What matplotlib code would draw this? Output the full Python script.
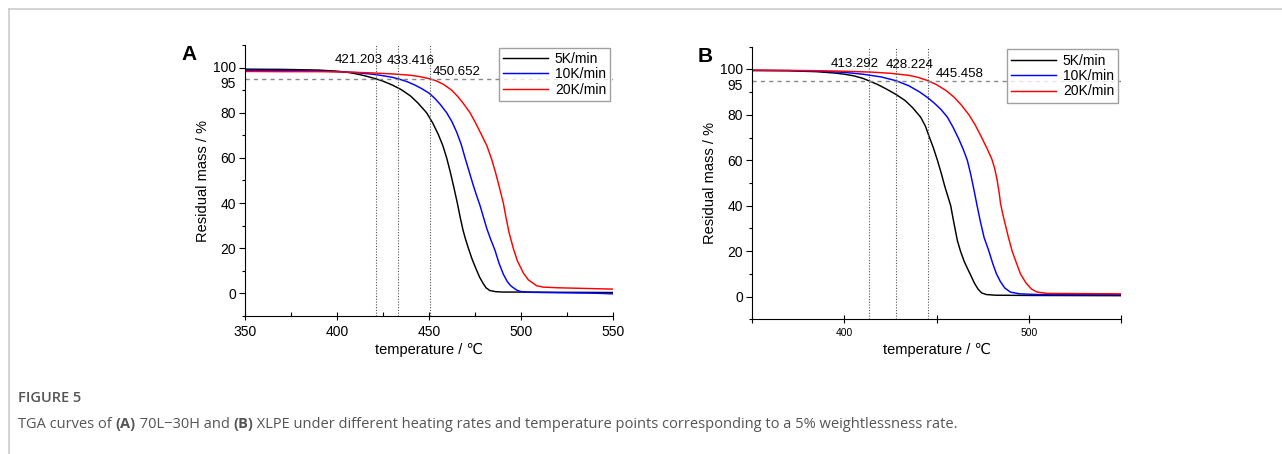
import matplotlib
matplotlib.use("Agg")
import matplotlib.pyplot as plt
import matplotlib.transforms as mtransforms
from matplotlib.ticker import FixedLocator, NullFormatter

plt.rcParams['font.family'] = ['Liberation Sans', 'DejaVu Sans']

# ---------------- data ----------------
# Panel A: 70L-30H
a_black_T = [350, 370, 390, 400, 405, 410, 415, 421.2, 425, 430, 435, 440, 444, 448.7, 452, 455, 457.5,
             459.6, 461.5, 463.5, 465.4, 467, 468.5, 469.6, 471.4, 473.5, 475.5, 477.5, 479.5, 481, 483,
             486, 490, 500, 520, 550]
a_black_m = [99.3, 99.2, 98.9, 98.4, 98.0, 97.3, 96.4, 95.0, 94.0, 92.3, 90.2, 87.4, 84.3, 80.0, 75.5, 70.5, 65.5,
             60.0, 54.0, 47.0, 40.0, 33.5, 28.0, 24.7, 20.0, 15.0, 11.0, 7.2, 4.3, 2.5, 1.3,
             0.8, 0.6, 0.6, 0.5, 0.4]
a_blue_T = [350, 370, 390, 400, 410, 420, 425, 430, 433.4, 438, 442, 446, 450, 453, 456, 459.6, 462.5, 465,
            467.5, 469.6, 472, 474, 475.8, 477.7, 479.5, 481.5, 483.5, 485.9, 488, 490.4, 492.5, 494.5,
            497.6, 500, 505, 520, 540, 550]
a_blue_m = [98.8, 98.7, 98.5, 98.2, 97.8, 97.0, 96.4, 95.7, 95.0, 93.8, 92.4, 90.7, 88.7, 86.5, 83.8, 80.0, 76.0, 71.5,
            66.0, 60.0, 53.5, 48.0, 43.5, 39.0, 34.0, 28.5, 24.0, 19.0, 13.5, 8.5, 5.3, 3.3,
            1.5, 0.8, 0.5, 0.3, 0.1, -0.2]
a_red_T = [350, 370, 390, 400, 410, 420, 430, 440, 445, 450.65, 454, 458, 462.3, 465.5, 468.5, 472.3, 475.5,
           478.5, 481.5, 484, 486, 488, 490.4, 492, 493.5, 495.8, 498, 501.3, 504, 508.5, 512, 520, 535, 550]
a_red_m = [98.3, 98.2, 98.2, 98.1, 97.9, 97.6, 97.2, 96.6, 96.0, 95.0, 94.1, 92.5, 90.0, 87.3, 84.3, 80.0, 75.2,
           70.3, 65.3, 59.5, 54.0, 47.8, 40.0, 33.0, 27.0, 20.0, 14.5, 9.0, 6.0, 3.4, 2.8, 2.5, 2.2, 1.9]

# Panel B: XLPE
b_black_T = [350, 370, 385, 395, 400, 405, 410, 413.3, 418, 423, 428, 433, 437, 441.4, 444, 446, 448.3,
             450.5, 452.5, 454.5, 456.2, 457.7, 459.3, 461.3, 463, 465, 467, 468.5, 470.5, 472.5, 474.5,
             477, 482, 500, 550]
b_black_m = [99.5, 99.4, 99.0, 98.4, 97.9, 97.2, 96.1, 95.0, 93.4, 91.3, 89.0, 86.3, 83.2, 79.0, 75.0, 70.5, 65.5,
             60.0, 54.5, 48.5, 44.0, 40.0, 33.0, 24.7, 20.0, 15.5, 12.0, 9.5, 6.0, 3.3, 1.6,
             0.9, 0.6, 0.5, 0.4]
b_blue_T = [350, 370, 390, 400, 410, 420, 428.2, 435, 441, 445.5, 449, 452.5, 455.9, 459, 462, 464.5, 466.7,
            468.5, 470.3, 472, 473.8, 475.8, 478.4, 480.5, 482.5, 484.7, 487, 490, 495, 505, 550]
b_blue_m = [99.6, 99.5, 99.1, 98.7, 97.9, 96.7, 95.0, 92.8, 90.0, 87.4, 85.0, 82.3, 79.0, 74.5, 69.5, 64.8, 60.0,
            54.0, 47.0, 40.0, 33.0, 26.0, 20.0, 14.5, 10.0, 6.5, 3.8, 2.0, 1.2, 0.9, 0.8]
b_red_T = [350, 380, 400, 415, 425, 435, 440, 445.5, 450, 455, 459.5, 463.5, 467.6, 471, 474.5, 477.5, 480,
           481.5, 482.8, 484, 484.7, 486, 487.5, 489, 491, 493, 495.5, 498.5, 501.5, 504.5, 510, 530, 550]
b_red_m = [99.7, 99.5, 99.2, 98.8, 98.3, 97.4, 96.5, 95.0, 93.3, 90.8, 87.8, 84.3, 80.0, 75.5, 70.0, 65.0, 60.5,
           56.5, 51.5, 45.5, 41.0, 36.0, 31.0, 26.0, 20.0, 15.5, 10.0, 6.0, 3.3, 2.0, 1.4, 1.3, 1.2]

a_onsets = [421.203, 433.416, 450.652]
b_onsets = [413.292, 428.224, 445.458]
a_label_pos = [(411.6, 103.3), (440.0, 103.0), (465.0, 98.0)]
b_label_pos = [(405.7, 102.6), (435.4, 101.8), (462.4, 98.0)]
series_names = ['5K/min', '10K/min', '20K/min']
colors = ['black', '#0000ff', '#ff0000']

# ---------------- figure ----------------
fig = plt.figure(figsize=(12.82, 4.54), dpi=100)

# page frame lines (top and left)
fig.add_artist(plt.Line2D([9/1282, 1], [1-9/454, 1-9/454], color='#cccccc', lw=1.2, transform=fig.transFigure))
fig.add_artist(plt.Line2D([9/1282, 9/1282], [0, 1-9/454], color='#cccccc', lw=1.2, transform=fig.transFigure))

axA = fig.add_axes([245/1282, 1-316/454, 368/1282, 271/454])
axB = fig.add_axes([752/1282, 1-319.3/454, 369/1282, 272.6/454])


def style(ax, curves, onsets, label_pos, panel, px):
    for (T, m), c, n in zip(curves, colors, series_names):
        ax.plot(T, m, color=c, lw=1.05, label=n)
    ax.set_xlim(350, 550)
    ax.set_ylim(-10, 110)
    ax.axhline(95, color='#888888', lw=1.0, ls=(0, (3, 3)))
    for x in onsets:
        ax.axvline(x, color='#555555', lw=0.8, ls=(0, (1, 1.5)))
    for x, (tx, ty) in zip(onsets, label_pos):
        ax.text(tx, ty, f'{x:.3f}', ha='center', va='center', fontsize=9.5)
    for s in ['top', 'right']:
        ax.spines[s].set_visible(False)
    ax.set_yticks([0, 20, 40, 60, 80, 95, 100])
    ax.set_yticklabels(['0', '20', '40', '60', '80', '95', '100'], fontsize=10)
    ax.yaxis.set_minor_locator(FixedLocator([-10, 10, 30, 50, 70, 90, 110]))
    ax.tick_params(axis='y', which='major', direction='out', length=4, width=0.8, pad=2.5)
    ax.tick_params(axis='y', which='minor', direction='out', length=2.5, width=0.8)
    ax.set_ylabel('Residual mass / %', fontsize=10.5, labelpad=2)
    ax.set_xlabel('temperature / ℃', fontsize=10.5, labelpad=3)
    leg = ax.legend(loc='upper right', bbox_to_anchor=(1.0, 1.0), fontsize=10, frameon=True,
                    fancybox=False, edgecolor='#888888', handlelength=3.2, handletextpad=0.5,
                    borderpad=0.3, labelspacing=0.1, borderaxespad=0.2)
    leg.get_frame().set_linewidth(1.0)
    ax.text(px, 1.0, panel, transform=ax.transAxes, fontsize=15, fontweight='bold',
            ha='left', va='top')


style(axA, [(a_black_T, a_black_m), (a_blue_T, a_blue_m), (a_red_T, a_red_m)], a_onsets, a_label_pos, 'A', -0.172)
axA.set_xticks([350, 400, 450, 500, 550])
axA.set_xticklabels(['350', '400', '450', '500', '550'], fontsize=10)
axA.xaxis.set_minor_locator(FixedLocator([375, 425, 475, 525]))
axA.tick_params(axis='x', which='major', direction='inout', length=6, width=0.8)
axA.tick_params(axis='x', which='minor', direction='in', length=3, width=0.8)

style(axB, [(b_black_T, b_black_m), (b_blue_T, b_blue_m), (b_red_T, b_red_m)], b_onsets, b_label_pos, 'B', -0.148)
axB.set_xticks([400, 500])
axB.set_xticklabels(['400', '500'], fontsize=7.5)
axB.xaxis.set_minor_locator(FixedLocator([350, 450, 550]))
axB.xaxis.set_minor_formatter(NullFormatter())
axB.tick_params(axis='x', which='both', direction='inout', length=6, width=0.8)

# separate the close "95" / "100" tick labels, as in the reference
for ax in (axA, axB):
    ticks = ax.yaxis.get_major_ticks()
    ticks[5].tick1line.set_markersize(0)
    lab95 = ticks[5].label1
    lab95.set_transform(lab95.get_transform() + mtransforms.ScaledTranslation(0, -3.5/100, fig.dpi_scale_trans))
    lab100 = ticks[6].label1
    lab100.set_transform(lab100.get_transform() + mtransforms.ScaledTranslation(0, 1/100, fig.dpi_scale_trans))

# caption
cap_font = ['Open Sans', 'DejaVu Sans']
fig.text(18/1282, 1-398/454, 'FIGURE 5', fontsize=10.5, color='#555555', family=cap_font,
         fontweight='semibold', va='center', ha='left')
y_cap = 1-424/454
parts = [('TGA curves of ', 'normal'), ('(A)', 'bold'), (' 70L\u221230H and ', 'normal'), ('(B)', 'bold'),
         (' XLPE under different heating rates and temperature points corresponding to a 5% weightlessness rate.', 'normal')]
fig.canvas.draw()
renderer = fig.canvas.get_renderer()
x = 18/1282
for txt, w in parts:
    t = fig.text(x, y_cap, txt, fontsize=10.5, color='#555555', family=cap_font, fontweight=w,
                 va='center', ha='left')
    bb = t.get_window_extent(renderer=renderer)
    x += bb.width / fig.bbox.width

fig.savefig('out.png', dpi=100)
